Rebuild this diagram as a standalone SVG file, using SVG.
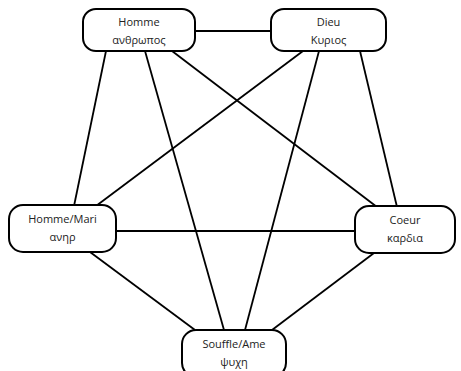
<svg xmlns="http://www.w3.org/2000/svg" width="461" height="371" viewBox="0 0 461 371">
<style>
.node rect{fill:#fff;stroke:#000;stroke-width:2}
.node text{font-family:"Open Sans","DejaVu Sans",sans-serif;font-size:11px;fill:#222;text-anchor:middle}
.edges line{stroke:#000;stroke-width:1.8}
</style>
<rect width="461" height="371" fill="#fff"/>
<g class="edges">
<line x1="195" y1="31" x2="271" y2="31"/>
<line x1="106" y1="51" x2="74" y2="206"/>
<line x1="145" y1="51" x2="224" y2="330"/>
<line x1="172" y1="51" x2="377" y2="207"/>
<line x1="303" y1="51" x2="96" y2="206"/>
<line x1="319" y1="51" x2="245" y2="330"/>
<line x1="360" y1="51" x2="397" y2="207"/>
<line x1="116" y1="231" x2="355" y2="231"/>
<line x1="90" y1="252" x2="195" y2="330"/>
<line x1="374" y1="253" x2="272" y2="330"/>
</g>
<g id="homme" class="node"><rect x="83" y="9" width="112" height="42" rx="13"/><text x="139" y="26">Homme</text><text x="139" y="44">ανθρωπος</text></g>
<g id="dieu" class="node"><rect x="271" y="9" width="115" height="42" rx="13"/><text x="328.5" y="26">Dieu</text><text x="328.5" y="44">Κυριος</text></g>
<g id="hommemari" class="node"><rect x="9" y="205" width="107" height="47" rx="14"/><text x="62.5" y="223">Homme/Mari</text><text x="62.5" y="241">ανηρ</text></g>
<g id="coeur" class="node"><rect x="355" y="206" width="100" height="47" rx="14"/><text x="405" y="224">Coeur</text><text x="405" y="242">καρδια</text></g>
<g id="souffle" class="node"><rect x="182" y="330" width="104" height="47" rx="14"/><text x="234" y="348">Souffle/Ame</text><text x="234" y="366">ψυχη</text></g>
</svg>
